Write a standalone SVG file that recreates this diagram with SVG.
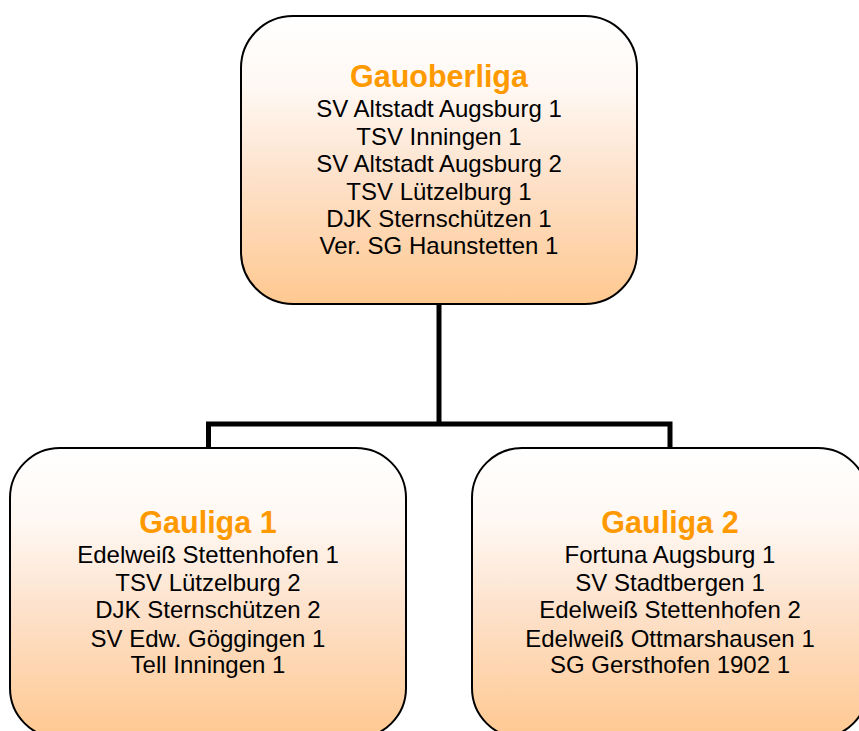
<svg xmlns="http://www.w3.org/2000/svg" width="859" height="731" viewBox="0 0 859 731">
  <defs>
    <linearGradient id="peach" x1="0" y1="0" x2="0" y2="1">
      <stop offset="0" stop-color="#FFFFFF"/>
      <stop offset="0.25" stop-color="#FFF8F3"/>
      <stop offset="0.55" stop-color="#FDE2CC"/>
      <stop offset="1" stop-color="#FFC890"/>
    </linearGradient>
  </defs>
  <style>
    .box { fill: url(#peach); stroke: #000000; stroke-width: 2; }
    .title { font-family: "Liberation Sans", Arial, sans-serif; font-weight: bold; font-size: 30.5px; fill: #FF9900; text-anchor: middle; }
    .item { font-family: "Liberation Sans", Arial, sans-serif; font-size: 24px; fill: #000000; text-anchor: middle; }
    .conn { fill: none; stroke: #000000; stroke-width: 5; stroke-linejoin: miter; stroke-linecap: butt; }
  </style>
  <rect width="859" height="731" fill="#FFFFFF"/>
  <g id="connectors">
    <path class="conn" d="M439,304 V424"/>
    <path class="conn" d="M208.5,448 V424 H670 V448"/>
  </g>
  <g id="gauoberliga">
    <rect class="box" x="241" y="16" width="396" height="288" rx="52" ry="52"/>
    <text class="title" x="439" y="86.7">Gauoberliga</text>
    <text class="item" x="439" y="117.3">SV Altstadt Augsburg 1</text>
    <text class="item" x="439" y="144.7">TSV Inningen 1</text>
    <text class="item" x="439" y="172.1">SV Altstadt Augsburg 2</text>
    <text class="item" x="439" y="199.5">TSV Lützelburg 1</text>
    <text class="item" x="439" y="226.9">DJK Sternschützen 1</text>
    <text class="item" x="439" y="254.3">Ver. SG Haunstetten 1</text>
  </g>
  <g id="gauliga1">
    <rect class="box" x="10" y="448" width="396" height="290" rx="50" ry="50"/>
    <text class="title" x="208" y="532.7">Gauliga 1</text>
    <text class="item" x="208" y="563.3">Edelweiß Stettenhofen 1</text>
    <text class="item" x="208" y="590.7">TSV Lützelburg 2</text>
    <text class="item" x="208" y="618.3">DJK Sternschützen 2</text>
    <text class="item" x="208" y="646.7">SV Edw. Göggingen 1</text>
    <text class="item" x="208" y="673.3">Tell Inningen 1</text>
  </g>
  <g id="gauliga2">
    <rect class="box" x="472" y="448" width="396" height="290" rx="50" ry="50"/>
    <text class="title" x="670" y="533">Gauliga 2</text>
    <text class="item" x="670" y="563.3">Fortuna Augsburg 1</text>
    <text class="item" x="670" y="590.7">SV Stadtbergen 1</text>
    <text class="item" x="670" y="618.3">Edelweiß Stettenhofen 2</text>
    <text class="item" x="670" y="646.7">Edelweiß Ottmarshausen 1</text>
    <text class="item" x="670" y="673.3">SG Gersthofen 1902 1</text>
  </g>
</svg>
